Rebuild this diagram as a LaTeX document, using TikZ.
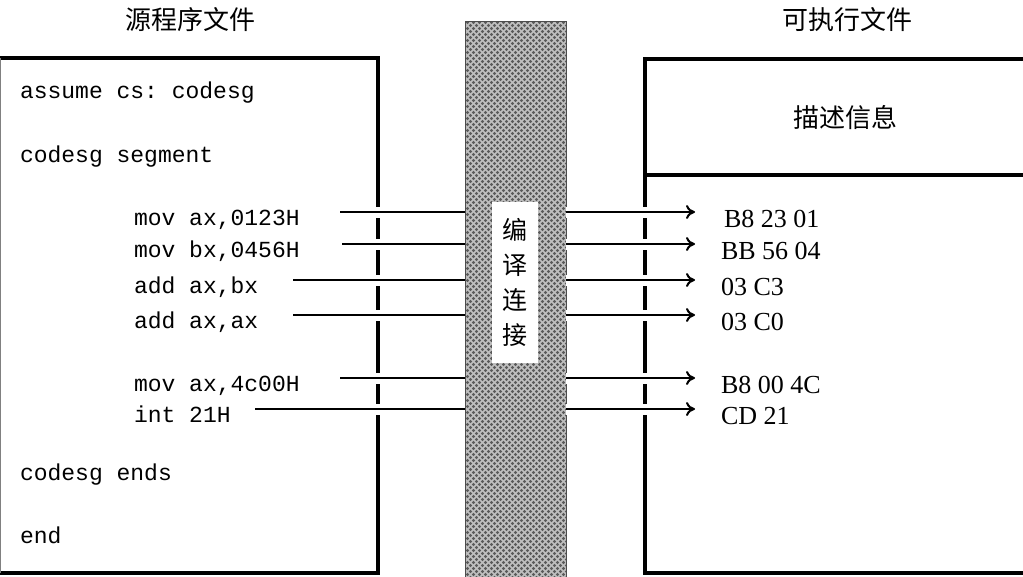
\documentclass[tikz,border=0pt]{standalone}
\usepackage{fontspec}
\setmainfont{Liberation Serif}
\setmonofont{Liberation Mono}
\newfontfamily\cjk{Noto Sans CJK SC}
\usetikzlibrary{arrows.meta,positioning}

\begin{document}
\begin{tikzpicture}[x=1pt,y=-1pt,->,>={To[length=9pt,width=14pt]},line width=2pt,
	asm/.style={anchor=base west,font=\fontsize{23}{23}\ttfamily,inner sep=0pt},
	hex/.style={anchor=base west,font=\fontsize{26}{26}\selectfont,inner sep=0pt},
	title/.style={font=\fontsize{26}{26}\cjk,inner sep=0pt},
	wire/.style={preaction={draw=white,line width=11pt,-}}]
	\tikzstyle{frame}=[-,line width=4pt,line cap=rect]
	\tikzstyle{hatch}=[-,white!75!black,line width=1.5pt]
	
	\useasboundingbox (0,0) rectangle (1023,576);
	
	% the two files
	\draw[frame] (0,58) -- (378,58) -- (378,573) -- (0,573);
	\draw[-,black!50,line width=1pt] (0.5,58) -- (0.5,573);
	\draw[frame] (1023,59) -- (645,59) -- (645,573) -- (1023,573);
	\draw[frame] (645,175) -- (1023,175);
	
	\node[title] (src)  at (190,20)  {源程序文件};
	\node[title] (exe)  at (847,20)  {可执行文件};
	\node[title] (info) at (845,118) {描述信息};
	
	% source lines
	\node[asm] (l1) at (19,98)   {assume cs: codesg};
	\node[asm] (l2) at (19,162)  {codesg segment};
	\node[asm] (m1) at (133,225) {mov ax,0123H};
	\node[asm] (m2) at (133,257) {mov bx,0456H};
	\node[asm] (m3) at (133,293) {add ax,bx};
	\node[asm] (m4) at (133,328) {add ax,ax};
	\node[asm] (m5) at (133,391) {mov ax,4c00H};
	\node[asm] (m6) at (133,422) {int 21H};
	\node[asm] (l3) at (19,480)  {codesg ends};
	\node[asm] (l4) at (19,543)  {end};
	
	% machine code
	\node[hex] (h1) at (723,227) {B8 23 01};
	\node[hex] (h2) at (720,259) {BB 56 04};
	\node[hex] (h3) at (720,295) {03 C3};
	\node[hex] (h4) at (720,330) {03 C0};
	\node[hex] (h5) at (720,393) {B8 00 4C};
	\node[hex] (h6) at (720,424) {CD 21};
	
	% compiler band
	\node[minimum width=99pt,minimum height=556pt,inner sep=0pt] (band) at (515.5,300) {};
	\begin{scope}
		\clip (band.south west) rectangle (band.north east);
		\fill[black!65] (band.south west) rectangle (band.north east);
		\foreach \k in {-570,-564,...,110} {
			\draw[hatch] (466+\k,18) -- ++(562,562);
			\draw[hatch] (565-\k,18) -- ++(-562,562);
		}
	\end{scope}
	\draw[-,black!70,line width=1pt] (band.south west) rectangle (band.north east);
	\node[fill=white,minimum width=46pt,minimum height=161pt,inner sep=0pt,
		align=center,font=\fontsize{25}{35}\cjk] (lbl) at (515,282) {编\\译\\连\\接};
	
	\coordinate (a1) at (340,212);
	\coordinate (a2) at (342,244);
	\coordinate (a3) at (293,280);
	\coordinate (a4) at (293,315);
	\coordinate (a5) at (340,378);
	\coordinate (a6) at (255,409);
	
	\coordinate (b1) at (695,212);
	\coordinate (b2) at (695,244);
	\coordinate (b3) at (695,280);
	\coordinate (b4) at (695,315);
	\coordinate (b5) at (695,378);
	\coordinate (b6) at (695,409);
	
	\path[-] (a1) edge[wire] (a1 -| band.west)
	         (a2) edge[wire] (a2 -| band.west)
	         (a3) edge[wire] (a3 -| band.west)
	         (a4) edge[wire] (a4 -| band.west)
	         (a5) edge[wire] (a5 -| band.west)
	         (a6) edge[wire] (a6 -| band.west);
	
	\path (b1 -| band.east) edge[wire] (b1)
	      (b2 -| band.east) edge[wire] (b2)
	      (b3 -| band.east) edge[wire] (b3)
	      (b4 -| band.east) edge[wire] (b4)
	      (b5 -| band.east) edge[wire] (b5)
	      (b6 -| band.east) edge[wire] (b6);
	
\end{tikzpicture}
\end{document}
